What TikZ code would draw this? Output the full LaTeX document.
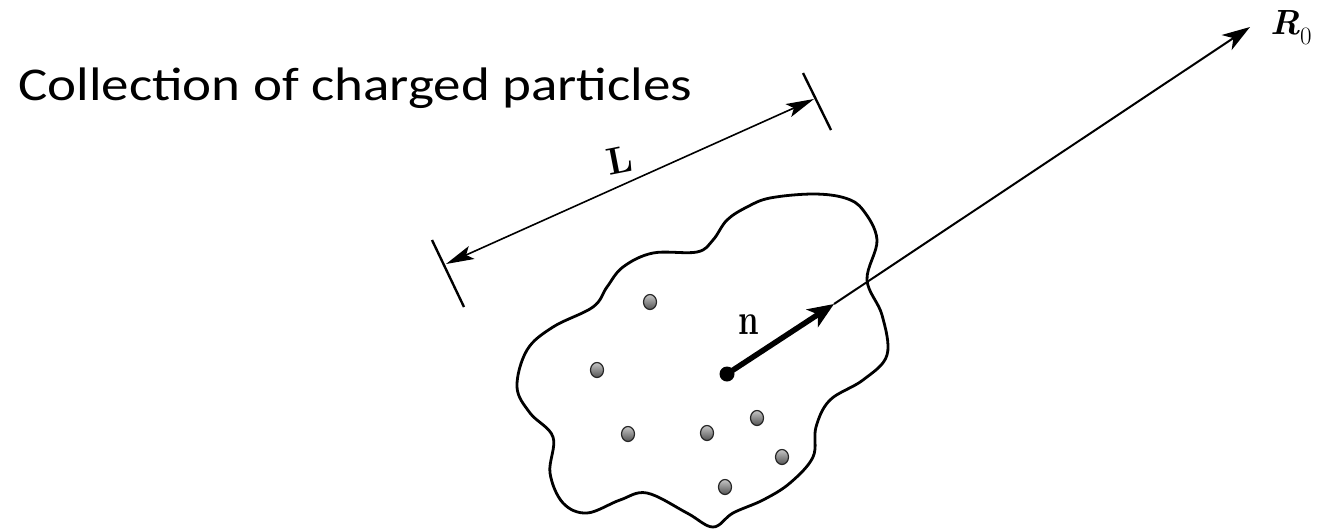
\documentclass[tikz,border=0pt]{standalone}
\usepackage{fontspec}
\newfontfamily\titlefont{Carlito}
\usetikzlibrary{arrows.meta,calc,shapes.geometric}
\begin{document}
\begin{tikzpicture}[x=1pt,y=-1pt,
  outline/.style={line width=2.8pt, line join=round},
  dimline/.style={line width=1.6pt, {Stealth[length=28pt,width=14pt,inset=6pt]}-{Stealth[length=28pt,width=14pt,inset=6pt]}},
  tick/.style={line width=2.4pt},
  particle/.style={ellipse, draw=black!85, line width=1.2pt, minimum width=13pt, minimum height=15pt, inner sep=0pt, top color=gray!45, bottom color=gray!65!black},
  nvec/.style={line width=5.5pt, -{Stealth[length=26pt,width=21pt,inset=7pt]}},
  rvec/.style={line width=2pt, -{Stealth[length=28pt,width=18pt,inset=8pt]}}]
\useasboundingbox (0,0) rectangle (1319,531);
% title
\node[anchor=base west, inner sep=0pt, xscale=1.17, font=\titlefont\fontsize{47}{54}\selectfont] (title) at (18,100) {Collection of charged particles};
% blob
\draw[outline] plot[smooth cycle, tension=0.6] coordinates {
(770,198) (813,194) (845,198) (863,210) (877,240) (867,280) (882,315) (887,355) (863,380) (830,400)
(816,427) (813,457) (790,483) (763,500) (733,513) (713,527) (687,513) (647,493) (620,500)
(587,513) (563,503) (550,473) (553,437) (530,413) (517,387) (527,350) (553,327) (593,307)
(607,287) (623,267) (653,253) (697,252) (713,240) (727,220) (747,207)};
% dimension line
\coordinate (t1a) at (432,240); \coordinate (t1b) at (464,307);
\coordinate (t2a) at (803,73); \coordinate (t2b) at (831,130);
\draw[tick] (t1a) -- (t1b);
\draw[tick] (t2a) -- (t2b);
\coordinate (d1) at (446,264); \coordinate (d2) at (814,99);
\draw[dimline] (d1) -- (d2);
\node[font=\bfseries\fontsize{38}{38}\selectfont, rotate=11, inner sep=0pt] (L) at (620,160) {L};
% particles
\node[particle] (p1) at (650,302) {};
\node[particle] (p2) at (597,370) {};
\node[particle] (p3) at (628,434) {};
\node[particle] (p4) at (707,433) {};
\node[particle] (p5) at (757,418) {};
\node[particle] (p6) at (782,457) {};
\node[particle] (p7) at (725,487) {};
% n vector
\coordinate (c) at (727,374);
\coordinate (ntip) at (834,304);
\fill (c) circle (7.5pt);
\draw[nvec] (c) -- (ntip);
\node[font=\bfseries\fontsize{44}{44}\selectfont, xscale=0.75, inner sep=0pt, anchor=base] (n) at (749,334) {n};
% R0
\node[anchor=base west, inner sep=0pt, font=\fontsize{30}{30}\selectfont] (R0) at (1270,34) {\resizebox{30pt}{!}{\bfseries\itshape R}\raisebox{-10pt}{\fontsize{25}{25}\selectfont 0}};
\coordinate (rend) at (1250,27);
\draw[rvec] (ntip) -- (rend);
\end{tikzpicture}
\end{document}
